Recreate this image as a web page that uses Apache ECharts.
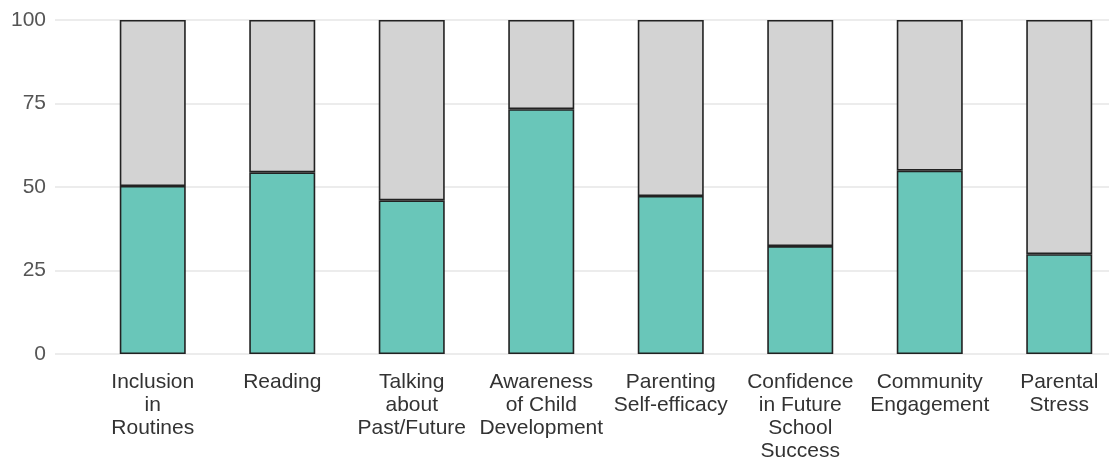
<!DOCTYPE html>
<html>
<head>
<meta charset="utf-8">
<script src="https://cdn.jsdelivr.net/npm/echarts@6/dist/echarts.min.js"></script>
<style>html,body{margin:0;padding:0;background:#fff}#c{width:1109px;height:459px}</style>
</head>
<body>
<div id="c"></div>
<script>
const categories = [
  "Inclusion\nin\nRoutines",
  "Reading",
  "Talking\nabout\nPast/Future",
  "Awareness\nof Child\nDevelopment",
  "Parenting\nSelf-efficacy",
  "Confidence\nin Future\nSchool\nSuccess",
  "Community\nEngagement",
  "Parental\nStress"
];
const values = [50.3, 54.4, 46.0, 73.3, 47.3, 32.3, 54.9, 29.9];
const total = 100;
const yTicks = [0, 25, 50, 75, 100];

const remainder = values.map(v => +(total - v).toFixed(2));
const chart = echarts.init(document.getElementById('c'), null, {renderer: 'canvas'});
const font = '"Liberation Sans", Arial, sans-serif';
chart.setOption({
  animation: false,
  backgroundColor: '#ffffff',
  grid: [
    {left: 55, right: 0, top: 20, bottom: 105, outerBoundsMode: 'none', containLabel: false},
    {left: 88, width: 1036, top: 20, bottom: 105, outerBoundsMode: 'none', containLabel: false}
  ],
  xAxis: [
    {gridIndex: 0, type: 'value', show: false, min: 0, max: 1},
    {gridIndex: 1, type: 'category', data: categories,
     axisLine: {show: false}, axisTick: {show: false},
     axisLabel: {fontFamily: font, fontSize: 21, lineHeight: 23, color: '#333', margin: 17, interval: 0}}
  ],
  yAxis: [
    {gridIndex: 0, type: 'value', min: yTicks[0], max: yTicks[yTicks.length - 1], interval: 25,
     axisLine: {show: false}, axisTick: {show: false},
     axisLabel: {fontFamily: font, fontSize: 21, color: '#555', margin: 9},
     splitLine: {lineStyle: {color: '#e6e6e6', width: 1.5}}},
    {gridIndex: 1, type: 'value', min: 0, max: 100, show: false, splitLine: {show: false}}
  ],
  series: [
    {type: 'bar', xAxisIndex: 1, yAxisIndex: 1, stack: 's', data: values, barWidth: 66,
     itemStyle: {color: '#69c6b9', borderColor: '#222', borderWidth: 1.6}},
    {type: 'bar', xAxisIndex: 1, yAxisIndex: 1, stack: 's', data: remainder, barWidth: 66,
     itemStyle: {color: '#d3d3d3', borderColor: '#222', borderWidth: 1.6}}
  ]
});
</script>
</body>
</html>
